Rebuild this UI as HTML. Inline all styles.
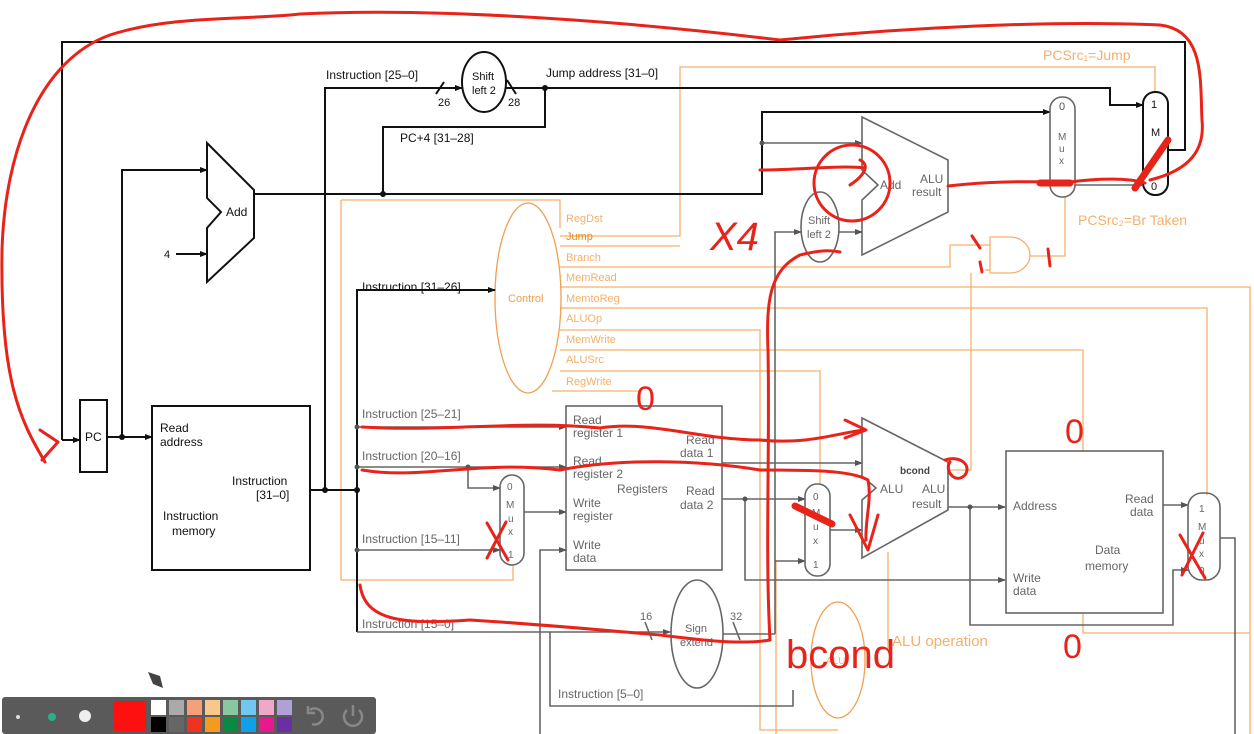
<!DOCTYPE html>
<html><head><meta charset="utf-8"><style>
html,body{margin:0;padding:0;background:#fff;}
svg{display:block;}
text{font-family:"Liberation Sans",Arial,sans-serif;}
</style></head><body>
<svg width="1254" height="734" viewBox="0 0 1254 734" xmlns="http://www.w3.org/2000/svg">
<defs>
<marker id="ab" markerWidth="8" markerHeight="8" refX="7" refY="4" orient="auto" markerUnits="userSpaceOnUse"><path d="M0,1 L8,4 L0,7z" fill="#111"/></marker>
<marker id="ag" markerWidth="8" markerHeight="8" refX="7" refY="4" orient="auto" markerUnits="userSpaceOnUse"><path d="M0,1 L8,4 L0,7z" fill="#555"/></marker>
</defs>
<rect width="1254" height="734" fill="#fff"/>

<!-- ORANGE control lines -->
<g fill="none" stroke="#f4b06a" stroke-width="1.3">
<path d="M341,200 H560 V228"/>
<path d="M341,200 V580 H513 V565"/>
<path d="M560,236 H680 V67 H1155 V92"/>
<path d="M560,246 H680"/>
<path d="M560,267 H950 V245 H990"/>
<path d="M560,287 H1250 V734"/>
<path d="M560,308 H1207 V495"/>
<path d="M560,330 H760 V730 H838"/>
<path d="M560,350 H1083 V452"/>
<path d="M560,371 H820 V484"/>
<path d="M552,391 H640 V407"/>
<path d="M1083,613 V633 H1250"/>
<path d="M971,273 V470 H948"/>
<path d="M1030,256 H1065 V197"/>
<path d="M888,552 V650"/>
<path d="M776,560 V734"/>
<ellipse cx="528" cy="298" rx="33" ry="95" stroke="#f0a050"/>
<ellipse cx="838" cy="660" rx="27" ry="58" stroke="#f0a050"/>
<path d="M990,237 H1010 A20,18 0 0 1 1010,273 H990 Z"/>
<path d="M985,270 H990"/>
</g>
<g fill="#f4b06a" font-size="11">
<text x="566" y="222">RegDst</text>
<text x="566" y="240" fill="#e88a20">Jump</text>
<text x="566" y="261">Branch</text>
<text x="566" y="281">MemRead</text>
<text x="566" y="302">MemtoReg</text>
<text x="566" y="322">ALUOp</text>
<text x="566" y="343">MemWrite</text>
<text x="566" y="363">ALUSrc</text>
<text x="566" y="385">RegWrite</text>
<text x="508" y="302" fill="#f0a050" font-size="11">Control</text>
<text x="1043" y="60" font-size="14">PCSrc₁=Jump</text>
<text x="1078" y="225" font-size="14">PCSrc₂=Br Taken</text>
<text x="892" y="646" font-size="15">ALU operation</text>
<text x="826" y="664" font-size="10">ALU</text>
</g>

<!-- BLACK lines -->
<g fill="none" stroke="#111" stroke-width="2">
<path d="M62,440 V42 H1185 V150 H1168"/>
<path d="M62,440 H80" marker-end="url(#ab)"/>
<path d="M107,437 H152" marker-end="url(#ab)"/>
<path d="M122,437 V170 H207" marker-end="url(#ab)"/>
<path d="M176,254 H207" marker-end="url(#ab)"/>
<path d="M255,194 H762 V112 H1050" marker-end="url(#ab)"/>
<path d="M383,194 V127 H545 V88"/>
<path d="M506,88 H1110 V105 H1143" marker-end="url(#ab)"/>
<path d="M325,490 V88 H462" marker-end="url(#ab)"/>
<path d="M310,490 H357"/>
<path d="M357,632 V290 H495" marker-end="url(#ab)"/>
<path d="M436,94 L444,82"/>
<path d="M507,80 L516,94"/>
<rect x="80" y="400" width="27" height="72"/>
<rect x="152" y="406" width="158" height="164"/>
<path d="M207,143 L254,190 V238 L207,282 V228 L221,212 L207,198 Z"/>
<ellipse cx="484" cy="82" rx="22" ry="30"/>
<rect x="1143" y="92" width="25" height="103" rx="12"/>
</g>
<g fill="#111"><circle cx="122" cy="437" r="3"/><circle cx="383" cy="194" r="3"/><circle cx="545" cy="88" r="3"/><circle cx="325" cy="490" r="3"/><circle cx="357" cy="490" r="3"/></g>

<!-- GRAY lines -->
<g fill="none" stroke="#666" stroke-width="1.6">
<rect x="1050" y="97" width="25" height="100" rx="12"/>
<path d="M1075,185 H1143" marker-end="url(#ag)"/>
<path d="M762,143 H862" marker-end="url(#ag)"/>
<path d="M862,117 L948,160 V212 L862,255 V200 L878,185 L862,170 Z"/>
<ellipse cx="820" cy="227" rx="19" ry="35"/>
<path d="M839,232 H862" marker-end="url(#ag)"/>
<path d="M775,634 V232 H801" marker-end="url(#ag)"/>
<path d="M357,427 H566" marker-end="url(#ag)"/>
<path d="M357,467 H566" marker-end="url(#ag)"/>
<path d="M468,467 V488 H500" marker-end="url(#ag)"/>
<path d="M357,550 H500" marker-end="url(#ag)"/>
<path d="M357,632 H670" marker-end="url(#ag)"/>
<rect x="500" y="475" width="24" height="90" rx="12"/>
<path d="M524,512 H566" marker-end="url(#ag)"/>
<rect x="566" y="406" width="156" height="164"/>
<path d="M540,734 V550 H566" marker-end="url(#ag)"/>
<path d="M722,463 H862" marker-end="url(#ag)"/>
<path d="M722,499 H805" marker-end="url(#ag)"/>
<path d="M745,499 V580 H1005" marker-end="url(#ag)"/>
<path d="M775,561 H805" marker-end="url(#ag)"/>
<ellipse cx="697" cy="634" rx="26" ry="54"/>
<path d="M723,634 H775"/>
<path d="M550,632 V706 H793 V690"/>
<path d="M645,622 L652,640 M733,622 L740,640"/>
<rect x="805" y="484" width="25" height="92" rx="12"/>
<path d="M830,530 H862" marker-end="url(#ag)"/>
<path d="M862,418 L948,462 V510 L862,558 V500 L876,488 L862,476 Z"/>
<path d="M948,507 H1005" marker-end="url(#ag)"/>
<path d="M970,507 V625 H1173 V570 H1188" marker-end="url(#ag)"/>
<rect x="1006" y="451" width="157" height="162"/>
<path d="M1163,505 H1188" marker-end="url(#ag)"/>
<rect x="1188" y="493" width="32" height="87" rx="14"/>
<path d="M1220,538 H1235 V734"/>
</g>
<g fill="#555"><circle cx="468" cy="467" r="2.5"/><circle cx="357" cy="427" r="2.5"/><circle cx="357" cy="467" r="2.5"/><circle cx="357" cy="550" r="2.5"/><circle cx="745" cy="499" r="2.5"/><circle cx="970" cy="507" r="2.5"/><circle cx="762" cy="143" r="2.5"/></g>

<!-- BLACK TEXT -->
<g fill="#111" font-size="12">
<text x="326" y="79">Instruction [25–0]</text>
<text x="438" y="106" font-size="11">26</text>
<text x="508" y="106" font-size="11">28</text>
<text x="472" y="80" font-size="11">Shift</text>
<text x="472" y="94" font-size="11">left 2</text>
<text x="546" y="77">Jump address [31–0]</text>
<text x="400" y="142">PC+4 [31–28]</text>
<text x="226" y="216">Add</text>
<text x="164" y="258" font-size="11">4</text>
<text x="362" y="291">Instruction [31–26]</text>
<text x="85" y="441">PC</text>
<text x="160" y="432">Read</text>
<text x="160" y="446">address</text>
<text x="232" y="485">Instruction</text>
<text x="256" y="499">[31–0]</text>
<text x="163" y="520">Instruction</text>
<text x="172" y="535">memory</text>
<text x="1059" y="110" font-size="11" fill="#555">0</text>
<text x="1151" y="108" font-size="11">1</text>
<text x="1151" y="136" font-size="11">M</text>
<text x="1151" y="190" font-size="11">0</text>
</g>
<g fill="#666" font-size="12">
<text x="1058" y="140" font-size="10">M</text><text x="1059" y="152" font-size="10">u</text><text x="1059" y="164" font-size="10">x</text>
<text x="880" y="189">Add</text>
<text x="920" y="183">ALU</text><text x="912" y="196">result</text>
<text x="808" y="224" font-size="11">Shift</text><text x="807" y="238" font-size="11">left 2</text>
<text x="362" y="418">Instruction [25–21]</text>
<text x="362" y="460">Instruction [20–16]</text>
<text x="362" y="543">Instruction [15–11]</text>
<text x="362" y="628">Instruction [15–0]</text>
<text x="558" y="698">Instruction [5–0]</text>
<text x="507" y="490" font-size="10">0</text><text x="506" y="508" font-size="10">M</text><text x="508" y="522" font-size="10">u</text><text x="508" y="535" font-size="10">x</text><text x="508" y="558" font-size="10">1</text>
<text x="573" y="424">Read</text><text x="573" y="437">register 1</text>
<text x="573" y="465">Read</text><text x="573" y="478">register 2</text>
<text x="573" y="507">Write</text><text x="573" y="520">register</text>
<text x="573" y="549">Write</text><text x="573" y="562">data</text>
<text x="617" y="493">Registers</text>
<text x="686" y="444">Read</text><text x="680" y="457">data 1</text>
<text x="686" y="495">Read</text><text x="680" y="509">data 2</text>
<text x="640" y="620" font-size="11">16</text><text x="730" y="620" font-size="11">32</text>
<text x="685" y="632" font-size="11">Sign</text><text x="680" y="646" font-size="11">extend</text>
<text x="813" y="500" font-size="10">0</text><text x="812" y="516" font-size="10">M</text><text x="813" y="530" font-size="10">u</text><text x="813" y="544" font-size="10">x</text><text x="813" y="568" font-size="10">1</text>
<text x="900" y="474" font-size="10" font-weight="bold" fill="#444">bcond</text>
<text x="880" y="493">ALU</text>
<text x="922" y="493">ALU</text><text x="912" y="508">result</text>
<text x="1013" y="510">Address</text>
<text x="1013" y="582">Write</text><text x="1013" y="595">data</text>
<text x="1125" y="503">Read</text><text x="1130" y="516">data</text>
<text x="1095" y="554">Data</text><text x="1085" y="570">memory</text>
<text x="1199" y="512" font-size="10">1</text><text x="1198" y="530" font-size="10">M</text><text x="1199" y="544" font-size="10">u</text><text x="1199" y="557" font-size="10">x</text><text x="1199" y="574" font-size="10">0</text>
</g>

<!-- RED annotations -->
<g fill="none" stroke="#e8231a" stroke-width="3" stroke-linecap="round" stroke-linejoin="round">
<path d="M45,462 C20,420 0,380 2,250 C5,150 40,60 110,35 C170,15 250,20 300,14 C420,8 600,18 780,40 C900,28 1050,20 1160,25 C1205,30 1200,80 1202,120 C1205,150 1190,170 1150,180"/>
<path d="M40,430 L58,442 L42,460"/>
<path d="M948,186 C1000,180 1040,182 1070,182 C1100,178 1130,178 1145,183"/>
<path d="M760,170 C800,170 840,165 865,168 M850,185 C865,175 870,165 860,160"/>
<circle cx="852" cy="183" r="38"/>
<path d="M770,640 C765,550 770,450 768,350 C766,300 770,270 800,255 C820,250 830,250 840,252"/>
<path d="M362,427 C450,432 520,420 600,428 C650,420 700,440 760,440 C810,445 840,432 865,430 M845,420 L866,430 L845,438"/>
<path d="M362,470 C420,480 480,460 560,470 C620,458 700,460 760,470 C810,470 850,470 868,480 C872,500 865,520 866,540"/>
<path d="M360,585 C365,620 400,625 470,620 C550,625 600,630 660,635 C700,640 740,645 770,640"/>
<path d="M850,515 L868,550 L878,515"/>
<path d="M972,236 L980,248 M980,262 L982,272 M1048,249 L1050,266"/>
<path d="M945,460 C960,455 972,465 965,475 C955,485 944,470 950,462"/>
<path d="M487,523 L508,560 M506,522 L487,558"/>
<path d="M1180,535 L1205,578 M1203,533 L1182,575"/>
</g>
<g stroke="#e8231a" stroke-width="7" stroke-linecap="round"><path d="M1040,183 H1070"/><path d="M1135,188 L1168,140"/><path d="M795,506 L832,524"/></g>
<g fill="#e8231a" font-family="Liberation Sans, sans-serif">
<text x="636" y="410" font-size="34">0</text>
<text x="1065" y="443" font-size="34">0</text>
<text x="1063" y="658" font-size="34">0</text>
<text x="710" y="250" font-size="40" font-style="italic">X4</text>
<text x="786" y="668" font-size="40">bcond</text>
</g>

<!-- toolbar -->
<rect x="2" y="697" width="374" height="37" rx="3" fill="#5a5a5a"/>
<circle cx="18" cy="717" r="2" fill="#ddd"/>
<circle cx="52" cy="717" r="4" fill="#2bb08a"/>
<circle cx="85" cy="716" r="6" fill="#eee"/>
<rect x="114" y="701" width="32" height="30" fill="#ff1010"/>
<g>
<rect x="151" y="700" width="15" height="15" fill="#fff"/><rect x="151" y="717" width="15" height="15" fill="#000"/>
<rect x="169" y="700" width="15" height="15" fill="#aaa"/><rect x="169" y="717" width="15" height="15" fill="#666"/>
<rect x="187" y="700" width="15" height="15" fill="#f5a07a"/><rect x="187" y="717" width="15" height="15" fill="#ee3322"/>
<rect x="205" y="700" width="15" height="15" fill="#f8c88a"/><rect x="205" y="717" width="15" height="15" fill="#f59a20"/>
<rect x="223" y="700" width="15" height="15" fill="#88c8a0"/><rect x="223" y="717" width="15" height="15" fill="#0a8a40"/>
<rect x="241" y="700" width="15" height="15" fill="#70c8f0"/><rect x="241" y="717" width="15" height="15" fill="#10a0e8"/>
<rect x="259" y="700" width="15" height="15" fill="#f0a8c8"/><rect x="259" y="717" width="15" height="15" fill="#e81890"/>
<rect x="277" y="700" width="15" height="15" fill="#b0a0d8"/><rect x="277" y="717" width="15" height="15" fill="#6830a0"/>
</g>
<path d="M310,710 A8,8 0 1 1 312,724 M308,706 V713 H315" fill="none" stroke="#888" stroke-width="2.5"/>
<path d="M347,710 A9,9 0 1 0 359,710 M353,705 V716" fill="none" stroke="#888" stroke-width="2.5"/>
<path d="M148,672 L160,676 L163,688 L153,684 Z" fill="#444"/>
</svg>
</body></html>
